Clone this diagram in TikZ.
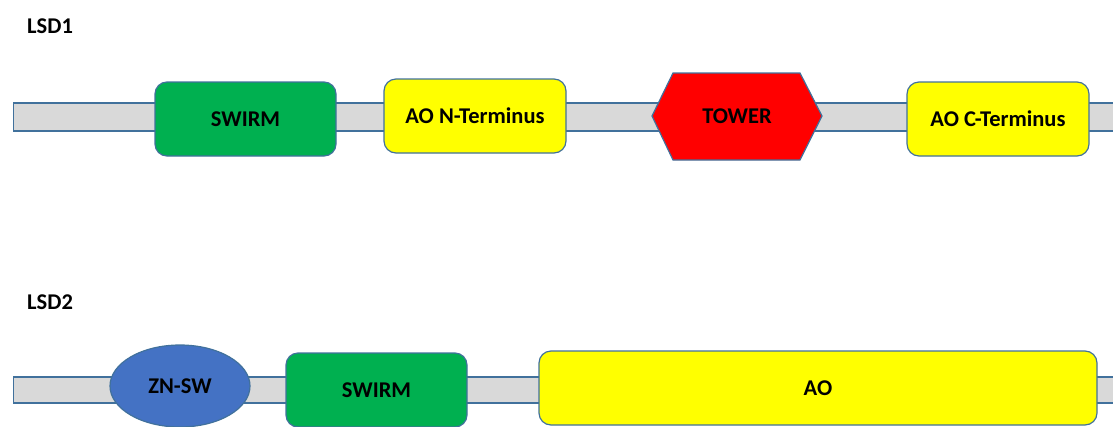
\documentclass[tikz,border=0pt]{standalone}
\usepackage{fontspec}
\setmainfont{Carlito}
\usetikzlibrary{shapes.geometric}
\definecolor{edge}{HTML}{41719C}
\definecolor{barfill}{HTML}{D9D9D9}
\definecolor{grn}{HTML}{00B050}
\definecolor{ylw}{HTML}{FFFF00}
\definecolor{rd}{HTML}{FF0000}
\definecolor{blu}{HTML}{4472C4}
\tikzset{
  lbl/.style={font=\fontsize{22.5}{27}\selectfont\bfseries},
  bar/.style={draw=edge, fill=barfill, line width=1.1pt, rectangle, inner sep=0pt, anchor=west},
  dom/.style={draw=edge, line width=1.2pt, rounded corners=12pt, inner sep=0pt, lbl},
  hdr/.style={lbl, anchor=west, inner sep=0pt}
}
\begin{document}
\begin{tikzpicture}[x=1pt, y=-1pt]
\useasboundingbox (0,0) rectangle (1113,426);
\clip (0,0) rectangle (1113,426);
% labels
\node[hdr] (lsd1) at (27,26) {LSD1};
\node[hdr] (lsd2) at (27,302) {LSD2};
% row 1
\node[bar, minimum width=1110pt, minimum height=28pt] (bar1) at (13,117) {};
\node[dom, fill=grn, minimum width=181pt, minimum height=74pt] (swirm1) at (245.5,119) {SWIRM};
\node[dom, fill=ylw, minimum width=182pt, minimum height=74pt] (aon) at (475,116) {AO N-Terminus};
\draw[draw=edge, fill=rd, line width=1.2pt] (652,116) -- (673,73) -- (800,73) -- (822,116) -- (800,160) -- (673,160) -- cycle;
\node[lbl, inner sep=0pt] (tower) at (737,116) {TOWER};
\node[dom, fill=ylw, minimum width=182pt, minimum height=74pt] (aoc) at (998,119) {AO C-Terminus};
% row 2
\node[bar, minimum width=1110pt, minimum height=26pt] (bar2) at (13,390) {};
\node[ellipse, draw=edge, fill=blu, line width=1.2pt, minimum width=140pt, minimum height=82pt, inner sep=0pt, lbl] (znsw) at (180,386) {ZN-SW};
\node[dom, fill=grn, minimum width=181pt, minimum height=74pt] (swirm2) at (376.5,390) {SWIRM};
\node[dom, fill=ylw, minimum width=558pt, minimum height=74pt] (ao) at (818,388) {AO};
\end{tikzpicture}
\end{document}
